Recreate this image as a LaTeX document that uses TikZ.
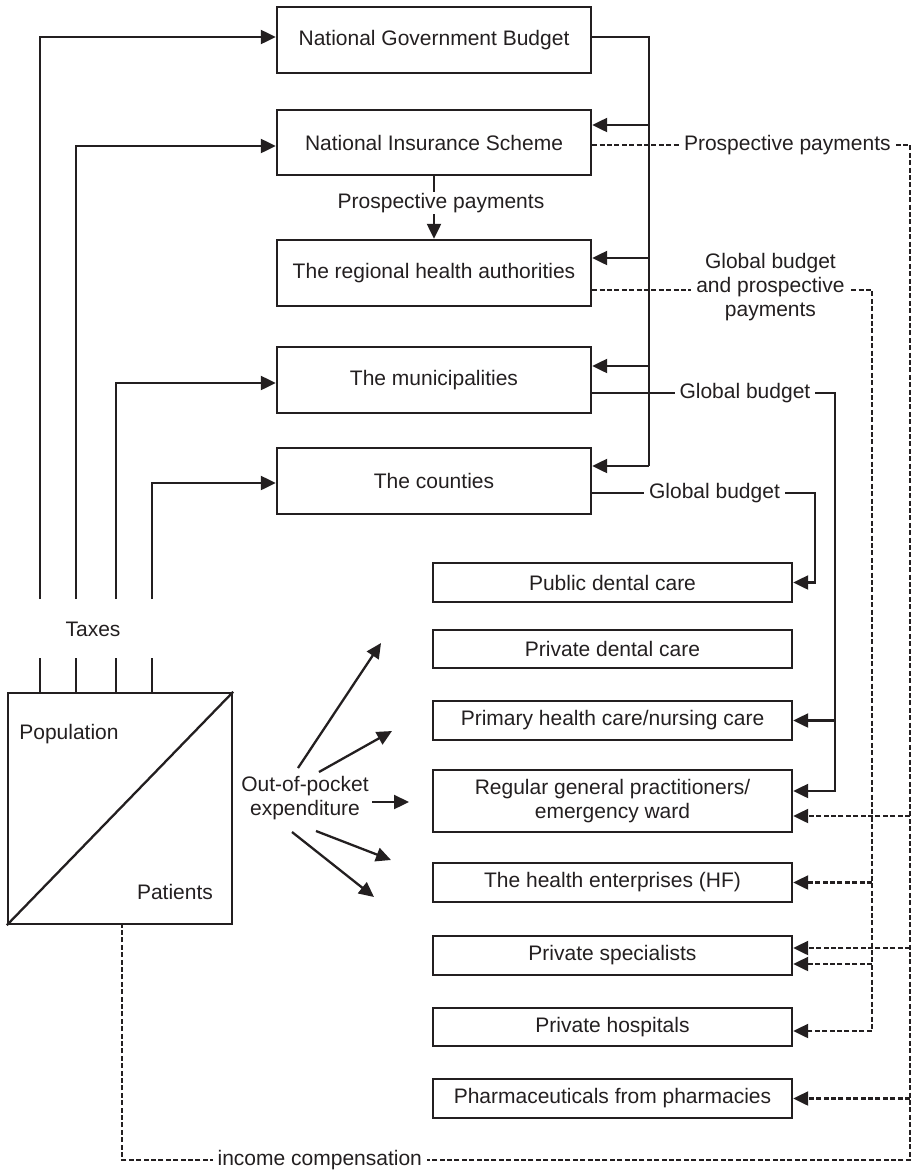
\documentclass[tikz,border=0pt]{standalone}
\usepackage{fontspec}
\setmainfont{Liberation Sans}
\usetikzlibrary{arrows.meta}
\definecolor{ink}{RGB}{35,31,32}
\newcommand\fsz{\fontsize{21}{24}\selectfont}
\begin{document}
\begin{tikzpicture}[x=1pt,y=-1pt,
  ln/.style={draw=ink,line width=2.3pt},
  arr/.style={ln,-{Triangle[length=15pt,width=14pt]}},
  dsh/.style={ln,dash pattern=on 5pt off 2.4pt},
  darr/.style={dsh,-{Triangle[length=15pt,width=14pt]}},
  topbox/.style={draw=ink,line width=2.4pt,minimum width=314pt,inner sep=0pt,font=\fsz,text=ink,align=center},
  provbox/.style={topbox,minimum width=359pt},
  lab/.style={fill=white,font=\fsz,text=ink,inner xsep=5pt,inner ysep=1pt,align=center},
  txt/.style={font=\fsz,text=ink,inner sep=0pt,align=center}]
\useasboundingbox (0,0) rectangle (914,1173);

% top boxes
\node[topbox,minimum height=66pt] (gov)  at (434,40)    {National Government Budget};
\node[topbox,minimum height=65pt] (nis)  at (434,142.5) {National Insurance Scheme};
\node[topbox,minimum height=66pt] (rha)  at (434,273)   {The regional health authorities};
\node[topbox,minimum height=66pt] (muni) at (434,380)   {The municipalities};
\node[topbox,minimum height=66pt] (cty)  at (434,481)   {The counties};

% provider boxes
\node[provbox,minimum height=39pt] (pdc)   at (612.5,582.5)  {Public dental care};
\node[provbox,minimum height=38pt] (prdc)  at (612.5,649)    {Private dental care};
\node[provbox,minimum height=39pt] (phc)   at (612.5,720.5)  {Primary health care/nursing care};
\node[provbox,minimum height=62pt] (gp)    at (612.5,801)    {Regular general practitioners/\\emergency ward};
\node[provbox,minimum height=39pt] (hf)    at (612.5,882.5)  {The health enterprises (HF)};
\node[provbox,minimum height=39pt] (ps)    at (612.5,955.5)  {Private specialists};
\node[provbox,minimum height=38pt] (ph)    at (612.5,1027)   {Private hospitals};
\node[provbox,minimum height=39pt] (pharm) at (612.5,1098.5) {Pharmaceuticals from pharmacies};

% population box
\node[draw=ink,line width=2.4pt,minimum width=224pt,minimum height=231pt,inner sep=0pt] (pop) at (120,808.5) {};
\draw[ln] (pop.south west) -- (pop.north east);
\node[txt] (popl) at (69,734) {Population};
\node[txt] (patl) at (175,892) {Patients};

% taxes
\node[txt] (taxes) at (93,629) {Taxes};
\draw[arr] (40,599) |- (gov.west |- 0,37);
\draw[arr] (76,599) |- (nis.west |- 0,146);
\draw[arr] (116,599) |- (muni.west |- 0,383);
\draw[arr] (152,599) |- (cty.west |- 0,483);
\foreach \x in {40,76,116,152} \draw[ln] (\x,658) -- (pop.north -| \x,0);

% national budget bus
\draw[ln] ([yshift=3pt]gov.east) -| (649,466);
\draw[arr] (649,125) -- (nis.east |- 0,125);
\draw[arr] (649,258) -- (rha.east |- 0,258);
\draw[arr] (649,366) -- (muni.east |- 0,366);
\draw[arr] (649,466) -- (cty.east |- 0,466);

% NIS -> RHA
\draw[arr] (nis.south) -- node[lab,pos=0.43,xshift=7pt]{Prospective payments} (rha.north);

% municipalities -> primary care, GP
\draw[arr] ([yshift=-13pt]muni.east) -- node[lab,pos=.629]{Global budget} (835,393) |- ([yshift=10pt]gp.east);
\draw[arr] (835,0 |- phc.east) -- (phc.east);

% counties -> public dental care
\draw[arr] ([yshift=-12pt]cty.east) -- node[lab,pos=.549]{Global budget} (815,493) |- (pdc.east);

% NIS dashed
\draw[dsh] ([yshift=-2.5pt]nis.east) -- node[lab,pos=.614]{Prospective payments} (910,145) -- (910,1160)
  -- node[lab,pos=.749]{income compensation} (122,1160) -- (pop.south -| 122,0);
\draw[darr] (910,816) -- (gp.east |- 0,816);
\draw[darr] (910,948) -- (ps.east |- 0,948);
\draw[darr] (910,0 |- pharm.east) -- (pharm.east);

% RHA dashed
\draw[darr] ([yshift=-17pt]rha.east) -- node[lab,pos=.637,yshift=3pt]{Global budget\\and prospective\\payments} (872,290) |- ([yshift=-4pt]ph.east);
\draw[darr] (872,0 |- hf.east) -- (hf.east);
\draw[darr] (872,964) -- (ps.east |- 0,964);

% out-of-pocket
\node[txt] (oop) at (305,798) {Out-of-pocket\\expenditure};
\coordinate (s1) at (298,768); \coordinate (e1) at (381,643);
\coordinate (s2) at (319,772); \coordinate (e2) at (392,731);
\coordinate (s3) at (372,802); \coordinate (e3) at (409,802);
\coordinate (s4) at (316,831); \coordinate (e4) at (391,860);
\coordinate (s5) at (292,832); \coordinate (e5) at (374,897);
\foreach \i in {1,...,5} \draw[arr] (s\i) -- (e\i);
\end{tikzpicture}
\end{document}
